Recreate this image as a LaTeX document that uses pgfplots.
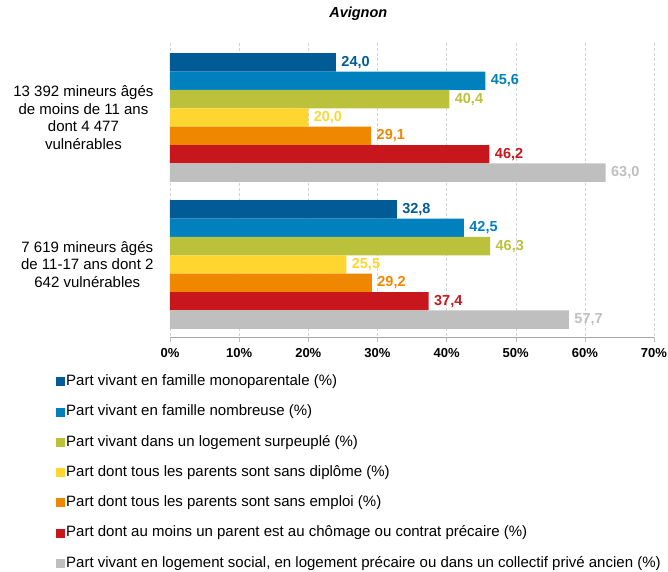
\documentclass[border=0pt]{standalone}
\usepackage{fontspec}
\setmainfont{Liberation Sans}
\usepackage{pgfplots}
\pgfplotsset{compat=1.18}
\definecolor{c1}{HTML}{005B96}
\definecolor{c2}{HTML}{0081BE}
\definecolor{c3}{HTML}{BCC13C}
\definecolor{c4}{HTML}{FFD530}
\definecolor{c5}{HTML}{F08700}
\definecolor{c6}{HTML}{C8171C}
\definecolor{c7}{HTML}{BFBFBF}

\begin{document}
\begin{tikzpicture}
\begin{axis}[
  scale only axis, width=484pt, height=294pt,
  xbar, bar width=0.125,
  xmin=0, xmax=70,
  ymin=-0.507, ymax=1.493, y dir=reverse,
  ytick={0,1},
  yticklabels={{13 392 mineurs âgés\\de moins de 11 ans\\dont 4 477\\vulnérables},{7 619 mineurs âgés\\de 11-17 ans dont 2\\642 vulnérables}},
  yticklabel style={align=center, font=\fontsize{15}{17.5}\selectfont, xshift=-8pt},
  xtick={0,10,...,70},
  xticklabels={0\%,10\%,20\%,30\%,40\%,50\%,60\%,70\%},
  xticklabel style={font=\bfseries\fontsize{13}{15}\selectfont, yshift=-3pt, inner xsep=0pt},
  axis x line*=bottom, axis y line*=left,
  y axis line style={draw=none}, ytick style={draw=none},
  x axis line style={gray!70, -},
  xtick style={gray!50},
  xtick align=outside, major tick length=5pt,
  xmajorgrids, major grid style={densely dashed, gray!35},
  title={Avignon},
  title style={at={(0.389,1.079)}, anchor=center, font=\bfseries\itshape\fontsize{14.5}{16}\selectfont},
  point meta=x,
  nodes near coords,
  nodes near coords style={anchor=west, font=\bfseries\fontsize{14.5}{16}\selectfont, xshift=2pt},
  legend style={at={(-0.2355,-0.125)}, anchor=north west, draw=none, fill=none,
    inner sep=0pt, row sep=14.8pt, font=\fontsize{15}{17}\selectfont,
    nodes={inner sep=1pt, text height=10.5pt, text depth=3pt}},
  legend cell align=left,
  legend image code/.code={\fill[#1] (0pt,-4.5pt) rectangle (9pt,4.5pt);},
  /pgf/number format/.cd, use comma, fixed, fixed zerofill, precision=1, assume math mode=true,
]
\addplot[c1, fill=c1, draw=none, bar shift=-0.375] coordinates {(24.0,0) (32.8,1)};
\addlegendentry{Part vivant en famille monoparentale (\%)}
\addplot[c2, fill=c2, draw=none, bar shift=-0.25] coordinates {(45.6,0) (42.5,1)};
\addlegendentry{Part vivant en famille nombreuse (\%)}
\addplot[c3, fill=c3, draw=none, bar shift=-0.125] coordinates {(40.4,0) (46.3,1)};
\addlegendentry{Part vivant dans un logement surpeuplé (\%)}
\addplot[c4, fill=c4, draw=none, bar shift=0] coordinates {(20.0,0) (25.5,1)};
\addlegendentry{Part dont tous les parents sont sans diplôme (\%)}
\addplot[c5, fill=c5, draw=none, bar shift=0.125] coordinates {(29.1,0) (29.2,1)};
\addlegendentry{Part dont tous les parents sont sans emploi (\%)}
\addplot[c6, fill=c6, draw=none, bar shift=0.25] coordinates {(46.2,0) (37.4,1)};
\addlegendentry{Part dont au moins un parent est au chômage ou contrat précaire (\%)}
\addplot[c7, fill=c7, draw=none, bar shift=0.375] coordinates {(63.0,0) (57.7,1)};
\addlegendentry{Part vivant en logement social, en logement précaire ou dans un collectif privé ancien (\%)}
\end{axis}
\path ([shift={(-170pt,-234pt)}]current axis.south west) rectangle ([shift={(14pt,43pt)}]current axis.north east);
\end{tikzpicture}
\end{document}
